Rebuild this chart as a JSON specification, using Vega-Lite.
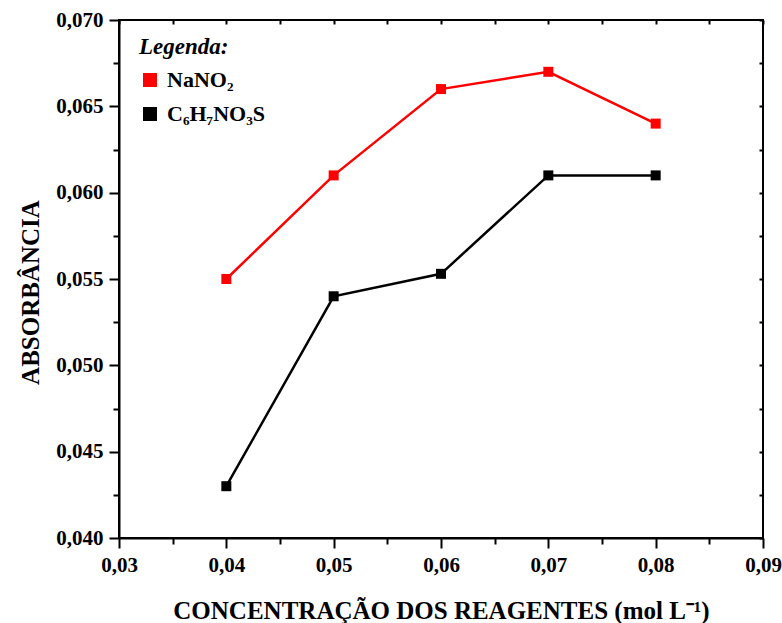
{
  "$schema": "https://vega.github.io/schema/vega-lite/v6.json",
  "autosize": "none",
  "width": 644,
  "height": 518,
  "padding": {"left": 119, "top": 20, "right": 19, "bottom": 85},
  "background": "white",
  "config": {
    "font": "Liberation Serif",
    "view": {"stroke": "black", "strokeWidth": 2},
    "axis": {
      "domainColor": "black",
      "domainWidth": 2,
      "tickColor": "black",
      "tickWidth": 2,
      "grid": false,
      "labelFont": "Liberation Serif",
      "labelFontSize": 21,
      "labelFontWeight": "bold",
      "labelColor": "black",
      "titleFont": "Liberation Serif",
      "titleFontSize": 25,
      "titleFontWeight": "bold",
      "titleColor": "black"
    },
    "legend": {
      "orient": "none",
      "legendX": 20,
      "legendY": 16,
      "padding": 0,
      "titleFont": "Liberation Serif",
      "titleFontSize": 23,
      "titleFontWeight": "bold",
      "titleFontStyle": "italic",
      "titleColor": "black",
      "titlePadding": 10,
      "labelFont": "Liberation Serif",
      "labelFontSize": 22,
      "labelFontWeight": "bold",
      "labelColor": "black",
      "labelOffset": 6,
      "symbolType": "square",
      "symbolSize": 196,
      "symbolStrokeWidth": 0,
      "symbolOpacity": 1,
      "rowPadding": 12
    }
  },
  "data": {
    "values": [
      {"conc": 0.04, "abs": 0.055, "serie": "NaNO₂"},
      {"conc": 0.05, "abs": 0.061, "serie": "NaNO₂"},
      {"conc": 0.06, "abs": 0.066, "serie": "NaNO₂"},
      {"conc": 0.07, "abs": 0.067, "serie": "NaNO₂"},
      {"conc": 0.08, "abs": 0.064, "serie": "NaNO₂"},
      {"conc": 0.04, "abs": 0.043, "serie": "C₆H₇NO₃S"},
      {"conc": 0.05, "abs": 0.054, "serie": "C₆H₇NO₃S"},
      {"conc": 0.06, "abs": 0.0553, "serie": "C₆H₇NO₃S"},
      {"conc": 0.07, "abs": 0.061, "serie": "C₆H₇NO₃S"},
      {"conc": 0.08, "abs": 0.061, "serie": "C₆H₇NO₃S"}
    ]
  },
  "layer": [
    {
      "mark": {"type": "line", "strokeWidth": 2.5},
      "encoding": {
        "x": {"field": "conc", "type": "quantitative", "scale": {"domain": [0.03, 0.09], "nice": false, "zero": false}, "axis": null},
        "y": {"field": "abs", "type": "quantitative", "scale": {"domain": [0.04, 0.07], "nice": false, "zero": false}, "axis": null},
        "color": {
          "field": "serie", "type": "nominal",
          "scale": {"domain": ["NaNO₂", "C₆H₇NO₃S"], "range": ["#ff0000", "#000000"]},
          "legend": {"title": "Legenda:", "symbolType": "square"}
        }
      }
    },
    {
      "mark": {"type": "point", "shape": "square", "filled": true, "size": 100, "opacity": 1},
      "encoding": {
        "x": {
          "field": "conc", "type": "quantitative",
          "title": "CONCENTRAÇÃO DOS REAGENTES (mol L⁻¹)",
          "axis": {
            "orient": "bottom",
            "values": [0.03, 0.035, 0.04, 0.045, 0.05, 0.055, 0.06, 0.065, 0.07, 0.075, 0.08, 0.085, 0.09],
            "labelExpr": "abs(datum.value*100 - round(datum.value*100)) < 0.01 ? replace(format(datum.value, '.2f'), '.', ',') : ''",
            "tickSize": {"condition": {"test": "abs(datum.value*100 - round(datum.value*100)) < 0.01", "value": 10}, "value": 6},
            "labelPadding": 6,
            "titlePadding": 23,
            "labelFlush": false,
            "labelOverlap": false
          }
        },
        "y": {
          "field": "abs", "type": "quantitative",
          "title": "ABSORBÂNCIA",
          "axis": {
            "orient": "left",
            "values": [0.04, 0.0425, 0.045, 0.0475, 0.05, 0.0525, 0.055, 0.0575, 0.06, 0.0625, 0.065, 0.0675, 0.07],
            "labelExpr": "abs(datum.value*200 - round(datum.value*200)) < 0.01 ? replace(format(datum.value, '.3f'), '.', ',') : ''",
            "tickSize": {"condition": {"test": "abs(datum.value*200 - round(datum.value*200)) < 0.01", "value": 10}, "value": 6},
            "labelPadding": 6,
            "titlePadding": 12,
            "titleY": 272,
            "labelFlush": false,
            "labelOverlap": false
          }
        },
        "color": {
          "field": "serie", "type": "nominal",
          "scale": {"domain": ["NaNO₂", "C₆H₇NO₃S"], "range": ["#ff0000", "#000000"]},
          "legend": {"title": "Legenda:", "symbolType": "square"}
        }
      }
    },
    {
      "mark": {"type": "point", "opacity": 0},
      "encoding": {
        "x": {
          "field": "conc", "type": "quantitative", "title": null,
          "axis": {
            "orient": "top",
            "values": [0.03, 0.035, 0.04, 0.045, 0.05, 0.055, 0.06, 0.065, 0.07, 0.075, 0.08, 0.085, 0.09],
            "labels": false, "domain": false, "tickSize": -4
          }
        },
        "y": {
          "field": "abs", "type": "quantitative", "title": null,
          "axis": {
            "orient": "right",
            "values": [0.04, 0.0425, 0.045, 0.0475, 0.05, 0.0525, 0.055, 0.0575, 0.06, 0.0625, 0.065, 0.0675, 0.07],
            "labels": false, "domain": false, "tickSize": -4
          }
        }
      }
    }
  ],
  "resolve": {"axis": {"x": "independent", "y": "independent"}}
}
